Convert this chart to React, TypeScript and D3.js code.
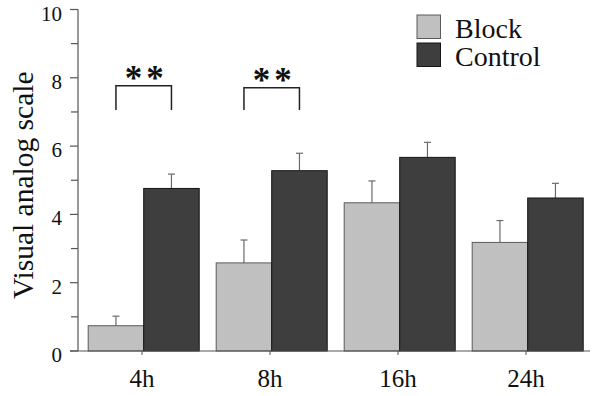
import * as d3 from "d3";

const categories = ["4h", "8h", "16h", "24h"];
const groups = ["Block", "Control"];
const blockMeans = [0.74, 2.58, 4.34, 3.18];
const blockErrors = [0.28, 0.67, 0.64, 0.64];
const controlMeans = [4.76, 5.28, 5.67, 4.48];
const controlErrors = [0.42, 0.51, 0.44, 0.43];
const yTicks = [0, 2, 4, 6, 8, 10];
const yMinorTicks = [1, 3, 5, 7, 9];
// significance brackets: category, top value, leg bottom value
const brackets = [
  { cat: "4h", top: 7.77, bottom: 7.06, label: "**" },
  { cat: "8h", top: 7.71, bottom: 7.06, label: "**" },
];

const colors: Record<string, { fill: string; stroke: string }> = {
  Block: { fill: "#c0c0c0", stroke: "#5a5a5a" },
  Control: { fill: "#3e3e3e", stroke: "#151515" },
};

const serif = "Liberation Serif";

export default function App() {
  const width = 600;
  const height = 396;
  const left = 78;
  const right = 590;
  const top = 9.5;
  const bottom = 351;

  const x = d3.scaleBand(categories, [left, right]);
  const xi = d3
    .scaleBand(groups, [0, x.bandwidth()])
    .paddingInner(0)
    .paddingOuter(0.153)
    .align(0.6);
  const y = d3.scaleLinear([0, 10], [bottom, top]);

  const series = [
    { key: "Block", means: blockMeans, errors: blockErrors },
    { key: "Control", means: controlMeans, errors: controlErrors },
  ];

  return (
    <svg
      width={width}
      height={height}
      fontFamily={serif}
      style={{ position: "absolute", left: 0, top: 0, background: "white" }}
    >
      {/* bars */}
      {series.map((s) =>
        categories.map((c, i) => {
          const bx = (x(c) ?? 0) + (xi(s.key) ?? 0);
          const bw = xi.bandwidth();
          const cx = bx + bw / 2;
          return (
            <g key={s.key + c}>
              <line
                x1={cx}
                x2={cx}
                y1={y(s.means[i])}
                y2={y(s.means[i] + s.errors[i])}
                stroke="#6a6a6a"
                strokeWidth={1.2}
              />
              <line
                x1={cx - 3.5}
                x2={cx + 3.5}
                y1={y(s.means[i] + s.errors[i])}
                y2={y(s.means[i] + s.errors[i])}
                stroke="#6a6a6a"
                strokeWidth={1.2}
              />
              <rect
                x={bx}
                y={y(s.means[i])}
                width={bw}
                height={y(0) - y(s.means[i])}
                fill={colors[s.key].fill}
                stroke={colors[s.key].stroke}
                strokeWidth={1}
              />
            </g>
          );
        })
      )}

      {/* y axis */}
      <line x1={left} x2={left} y1={top} y2={bottom} stroke="#555" strokeWidth={1.2} />
      {yTicks.map((t) => (
        <g key={t}>
          <line x1={left - 8} x2={left} y1={y(t)} y2={y(t)} stroke="#555" strokeWidth={1.2} />
          <text
            x={left - 16}
            y={y(t) + 11}
            textAnchor="end"
            fontSize={21}
            fontFamily={serif}
            fill="#111"
          >
            {t}
          </text>
        </g>
      ))}
      {yMinorTicks.map((t) => (
        <line key={t} x1={left - 7} x2={left} y1={y(t)} y2={y(t)} stroke="#555" strokeWidth={1.2} />
      ))}
      <text
        transform={`translate(33,${(top + bottom) / 2 + 5}) rotate(-90)`}
        textAnchor="middle"
        fontSize={29.5}
        fontFamily={serif}
        fill="#111"
      >
        Visual analog scale
      </text>

      {/* x axis */}
      <line x1={left - 8} x2={right} y1={bottom} y2={bottom} stroke="#555" strokeWidth={1.2} />
      {categories.map((c) => {
        const cx = (x(c) ?? 0) + x.bandwidth() / 2;
        return (
          <g key={c}>
            <line x1={cx} x2={cx} y1={bottom} y2={bottom + 4} stroke="#555" strokeWidth={1} />
            <text
              x={cx}
              y={386.5}
              textAnchor="middle"
              fontSize={25}
              fontFamily={serif}
              fill="#111"
            >
              {c}
            </text>
          </g>
        );
      })}

      {/* significance brackets */}
      {brackets.map((b) => {
        const bx = x(b.cat) ?? 0;
        const x1 = bx + (xi("Block") ?? 0) + xi.bandwidth() / 2;
        const x2 = bx + (xi("Control") ?? 0) + xi.bandwidth() / 2;
        return (
          <g key={b.cat}>
            <path
              d={`M${x1},${y(b.bottom)}V${y(b.top)}H${x2}V${y(b.bottom)}`}
              fill="none"
              stroke="#222"
              strokeWidth={1.5}
            />
            <text
              x={(x1 + x2) / 2 + 2.5}
              y={y(b.top) + 4}
              textAnchor="middle"
              fontSize={35}
              fontWeight="bold"
              letterSpacing={4}
              fontFamily={serif}
              fill="#111"
            >
              {b.label}
            </text>
          </g>
        );
      })}

      {/* legend */}
      {groups.map((g, i) => (
        <g key={g} transform={`translate(417,${15 + i * 28})`}>
          <rect
            width={23.5}
            height={23.5}
            fill={colors[g].fill}
            stroke={colors[g].stroke}
            strokeWidth={1}
          />
          <text x={38} y={22.5} fontSize={28} fontFamily={serif} fill="#111">
            {g}
          </text>
        </g>
      ))}
    </svg>
  );
}
